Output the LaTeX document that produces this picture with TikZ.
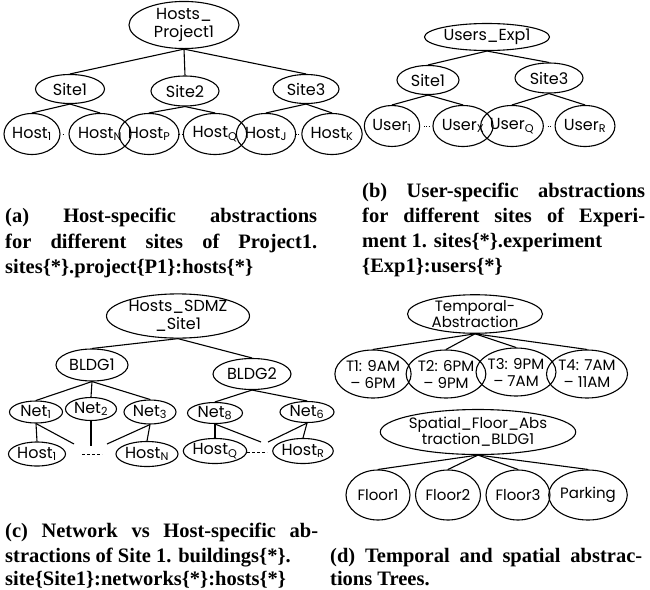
\documentclass[tikz,border=0pt]{standalone}
\usepackage{fontspec}
\setmainfont{Liberation Serif}
\newfontfamily\treefont{Poppins}
\usetikzlibrary{shapes.geometric}
\newcommand{\sbx}[1]{\textsubscript{#1}}
\begin{document}
\begin{tikzpicture}[x=1pt,y=-1pt,
  tn/.style={ellipse, draw, line width=1.1pt, inner sep=0pt, align=center,
    font=\treefont\fontsize{16}{18}\selectfont},
  tsmall/.style={font=\treefont\fontsize{15}{16}\selectfont},
  tbig/.style={font=\treefont\fontsize{15}{17}\selectfont},
  ed/.style={line width=1.1pt},
  dotl/.style={line width=1pt, dash pattern=on 0.9pt off 1.3pt},
  dashl/.style={line width=1pt, dash pattern=on 3pt off 2pt},
  captxt/.style={anchor=base west, inner sep=0pt, font=\bfseries\fontsize{20.5}{24}\selectfont},
]
\useasboundingbox (0,0) rectangle (650,589);

% ---------- (a) ----------
\node[tn, minimum width=110, minimum height=45] (a0) at (184,25) {Hosts\_\\Project1};
\node[tn, minimum width=69, minimum height=29] (a1) at (70,89) {Site1};
\node[tn, minimum width=68, minimum height=30] (a2) at (185,91) {Site2};
\node[tn, minimum width=66, minimum height=29] (a3) at (306,89) {Site3};
\node[tn, minimum width=50, minimum height=41] (a11) at (32,134) {Host\sbx{1}};
\node[tn, minimum width=50, minimum height=41] (a12) at (100,134) {Host\sbx{N}};
\node[tn, minimum width=45, minimum height=41] (a21) at (149,134) {Host\sbx{P}};
\node[tn, minimum width=45, minimum height=41] (a22) at (215,134) {Host\sbx{Q}};
\node[tn, minimum width=50, minimum height=41] (a31) at (266,134) {Host\sbx{J}};
\node[tn, minimum width=45, minimum height=41] (a32) at (332,134) {Host\sbx{K}};
\foreach \c in {a1,a2,a3} \draw[ed] (a0.south) -- (\c.north);
\draw[ed] (a1.south) -- (a11.north); \draw[ed] (a1.south) -- (a12.north);
\draw[ed] (a2.south) -- (a21.north); \draw[ed] (a2.south) -- (a22.north);
\draw[ed] (a3.south) -- (a31.north); \draw[ed] (a3.south) -- (a32.north);
\draw[dotl] ([xshift=2pt]a11.east) -- ([xshift=-5pt]a12.west);
\draw[dotl] ([xshift=3pt]a21.east) -- ([xshift=-5pt]a22.west);
\draw[dotl] ([xshift=3pt]a31.east) -- ([xshift=-5pt]a32.west);

% ---------- (b) ----------
\node[tn, minimum width=125, minimum height=27] (b0) at (487,37) {Users\_Exp1};
\node[tn, minimum width=62, minimum height=29] (b1) at (428,80) {Site1};
\node[tn, minimum width=68, minimum height=30] (b3) at (549,78) {Site3};
\node[tn, minimum width=47, minimum height=41] (b11) at (392,126) {User\sbx{1}};
\node[tn, minimum width=46, minimum height=41] (b12) at (463,126) {User\sbx{X}};
\node[tn, minimum width=50, minimum height=41] (b31) at (512,126) {User\sbx{Q}};
\node[tn, minimum width=46, minimum height=41] (b32) at (585,126) {User\sbx{R}};
\draw[ed] (b0.south) -- (b1.north); \draw[ed] (b0.south) -- (b3.north);
\draw[ed] (b1.south) -- (b11.north); \draw[ed] (b1.south) -- (b12.north);
\draw[ed] (b3.south) -- (b31.north); \draw[ed] (b3.south) -- (b32.north);
\draw[dotl] ([xshift=4pt]b11.east) -- ([xshift=-3pt]b12.west);
\draw[dotl] ([xshift=4pt]b31.east) -- ([xshift=-3pt]b32.west);

% ---------- captions (a),(b) ----------
\node[captxt] (ca1) at (5,222) {\makebox[312pt][s]{(a) Host-specific abstractions}};
\node[captxt] (ca2) at (5,248) {\makebox[312pt][s]{for different sites of Project1.}};
\node[captxt] (ca3) at (5,273) {sites\{*\}.project\{P1\}:hosts\{*\}};
\node[captxt] (cb1) at (362,197) {\makebox[283pt][s]{(b) User-specific abstractions}};
\node[captxt] (cb2) at (362,222) {\makebox[283pt][s]{for different sites of Experi-}};
\node[captxt] (cb3) at (362,247) {ment 1. sites\{*\}.experiment};
\node[captxt] (cb4) at (362,272) {\{Exp1\}:users\{*\}};

% ---------- (c) ----------
\node[tn, minimum width=143, minimum height=42] (c0) at (178,316) {Hosts\_SDMZ\\\_Site1};
\node[tn, minimum width=72, minimum height=32] (c1) at (92,365) {BLDG1};
\node[tn, minimum width=78, minimum height=31] (c2) at (252,374) {BLDG2};
\node[tn, minimum width=53, minimum height=22] (n1) at (36,412) {Net\sbx{1}};
\node[tn, minimum width=51, minimum height=23] (n2) at (91,409) {Net\sbx{2}};
\node[tn, minimum width=52, minimum height=24] (n3) at (150,412) {Net\sbx{3}};
\node[tn, minimum width=55, minimum height=21] (n8) at (215,413) {Net\sbx{8}};
\node[tn, minimum width=54, minimum height=21] (n6) at (307,412) {Net\sbx{6}};
\node[tn, minimum width=57, minimum height=24] (h1) at (37,454) {Host\sbx{1}};
\node[tn, minimum width=57, minimum height=25] (hN) at (147,454) {Host\sbx{N}};
\node[tn, minimum width=57, minimum height=25] (hQ) at (215,451) {Host\sbx{Q}};
\node[tn, minimum width=60, minimum height=25] (hR) at (303,451) {Host\sbx{R}};
\coordinate (d1) at (74,444);
\coordinate (d2) at (91,446);
\coordinate (d3) at (107,444);
\coordinate (d8) at (261,442);
\coordinate (d6) at (268,442);
\coordinate (e1) at (82,454); \coordinate (e2) at (102,454);
\coordinate (e3) at (247,452); \coordinate (e4) at (267,452);
\draw[ed] (c0.south) -- (c1.north); \draw[ed] (c0.south) -- (c2.north);
\draw[ed] (c1.south) -- (n1.north); \draw[ed] (c1.south) -- (n2.north); \draw[ed] (c1.south) -- (n3.north);
\draw[ed] (c2.south) -- (n8.north); \draw[ed] (c2.south) -- (n6.north);
\draw[ed] (n1.south) -- (h1.north); \draw[ed] (n1.south) -- (d1);
\draw[ed] (n2.south) -- (d2);
\draw[ed] (n3.south) -- (d3); \draw[ed] (n3.south) -- (hN.north);
\draw[ed] (n8.south) -- (hQ.north); \draw[ed] (n8.south) -- (d8);
\draw[ed] (n6.south) -- (hR.north); \draw[ed] (n6.south) -- (d6);
\draw[dashl] (e1) -- (e2);
\draw[dashl] (e3) -- (e4);

% ---------- (d) ----------
\node[tn, tsmall, minimum width=135, minimum height=38] (t0) at (475,314) {Temporal-\\Abstraction};
\node[tn, tbig, minimum width=68, minimum height=48] (t1) at (373,374) {T1: 9AM\\– 6PM};
\node[tn, tbig, minimum width=67, minimum height=48] (t2) at (446,374) {T2: 6PM\\– 9PM};
\node[tn, tbig, minimum width=66, minimum height=48] (t3) at (516,372) {T3: 9PM\\– 7AM};
\node[tn, tbig, minimum width=68, minimum height=48] (t4) at (587,374) {T4: 7AM\\– 11AM};
\foreach \c in {t1,t2,t3,t4} \draw[ed] (t0.south) -- (\c.north);
\node[tn, tsmall, minimum width=151, minimum height=45] (s0) at (478,432) {Spatial\_Floor\_Abs\\traction\_BLDG1};
\node[tn, tsmall, minimum width=64, minimum height=50] (f1) at (378,495) {Floor1};
\node[tn, tsmall, minimum width=65, minimum height=50] (f2) at (448,495) {Floor2};
\node[tn, tsmall, minimum width=64, minimum height=50] (f3) at (518,495) {Floor3};
\node[tn, tsmall, minimum width=64, minimum height=50] (f4) at (588,495) {Parking};
\foreach \c in {f1,f2,f3,f4} \draw[ed] (s0.south) -- (\c.north);

% ---------- captions (c),(d) ----------
\node[captxt] (cc1) at (5,537) {\makebox[313pt][s]{(c) Network vs Host-specific ab-}};
\node[captxt] (cc2) at (5,562) {stractions of Site 1. buildings\{*\}.};
\node[captxt] (cc3) at (5,585) {site\{Site1\}:networks\{*\}:hosts\{*\}};
\node[captxt] (cd1) at (330,562) {\makebox[312pt][s]{(d) Temporal and spatial abstrac-}};
\node[captxt] (cd2) at (330,585) {tions Trees.};
\end{tikzpicture}
\end{document}
